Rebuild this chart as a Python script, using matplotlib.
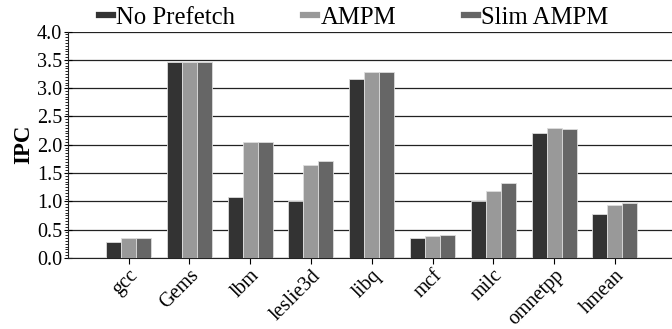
import matplotlib
matplotlib.use("Agg")
import matplotlib.pyplot as plt
import numpy as np
from matplotlib.ticker import MultipleLocator
from matplotlib.lines import Line2D

categories = ["gcc", "Gems", "lbm", "leslie3d", "libq", "mcf", "milc", "omnetpp", "hmean"]
no_prefetch = [0.29, 3.47, 1.07, 1.01, 3.17, 0.35, 1.00, 2.21, 0.78]
ampm = [0.35, 3.47, 2.05, 1.64, 3.29, 0.38, 1.19, 2.29, 0.94]
slim_ampm = [0.35, 3.47, 2.05, 1.71, 3.29, 0.40, 1.32, 2.27, 0.97]
series_names = ["No Prefetch", "AMPM", "Slim AMPM"]
yticks = [0.0, 0.5, 1.0, 1.5, 2.0, 2.5, 3.0, 3.5, 4.0]

plt.rcParams['font.family'] = ['Liberation Serif', 'DejaVu Serif']

fig = plt.figure(figsize=(6.72, 3.29), dpi=100)
ax = fig.add_axes([0.101, 0.216, 0.899, 0.688])

x = np.arange(len(categories))
w = 0.247
colors = ["#333333", "#999999", "#666666"]
for i, (vals, c, name) in enumerate(zip([no_prefetch, ampm, slim_ampm], colors, series_names)):
    ax.bar(x + (i - 1) * w, vals, w, color=c, edgecolor="#dddddd", linewidth=0.6,
           label=name, zorder=3)

ax.set_xlim(-1.0, 8.94)
ax.set_ylim(0, 4.0)
ax.set_yticks(yticks)
ax.set_yticklabels([f"{v:.1f}" for v in yticks], fontsize=14.5)
ax.yaxis.set_minor_locator(MultipleLocator(0.05))
ax.tick_params(axis='y', which='major', direction='inout', length=6, width=0.8, pad=1)
ax.tick_params(axis='y', which='minor', direction='out', length=2, width=0.6)
ax.set_xticks(x)
ax.set_xticklabels(categories, rotation=45, ha='right', rotation_mode='anchor', fontsize=14.5)
ax.tick_params(axis='x', direction='out', length=4, width=0.8, pad=2)
ax.grid(axis='y', color='#222222', linewidth=0.9, zorder=0)
for s in ['top', 'right']:
    ax.spines[s].set_visible(False)
ax.spines['left'].set_color('#222222')
ax.spines['bottom'].set_color('#222222')
ax.set_ylabel("IPC", fontsize=16.5, fontweight='bold', labelpad=2)

handles = [Line2D([0], [0], color=c, linewidth=4.5) for c in colors]
fig.legend(handles, series_names, loc='upper center', bbox_to_anchor=(0.5265, 1.048), ncol=3,
           frameon=False, fontsize=17.8, handlelength=0.55, handletextpad=0.15, columnspacing=2.75)

fig.savefig("out.png", dpi=100)
